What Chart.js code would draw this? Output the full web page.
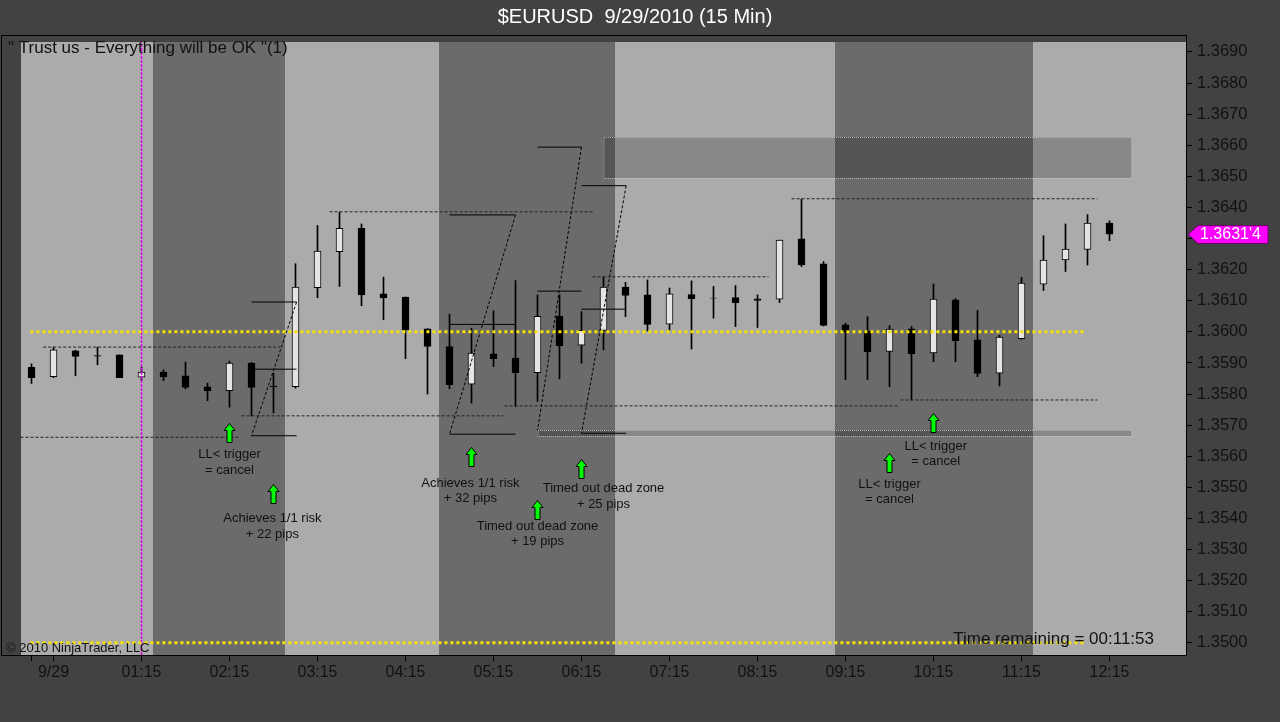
<!DOCTYPE html>
<html>
<head>
<meta charset="utf-8">
<script src="https://cdn.jsdelivr.net/npm/chart.js@4.4.0/dist/chart.umd.min.js"></script>
<style>
  html, body { margin: 0; padding: 0; background: #424242; }
  canvas { display: block; }
</style>
</head>
<body>
<canvas id="eurusdChart" width="1280" height="722"></canvas>
<script>
// 15 min bars, 9/29/2010, first bar 00:00
const opens  = [1.35886,1.35856,1.35939,1.35924,1.35926,1.35854,1.35871,1.35859,1.35823,1.35811,
                1.35900,1.35826,1.35824,1.36142,1.36258,1.36333,1.36122,1.36112,1.36010,1.35953,
                1.35832,1.35929,1.35916,1.35869,1.36051,1.35957,1.36005,1.36144,1.36119,1.36025,
                1.36120,1.36109,1.36110,1.36106,1.36105,1.36299,1.36219,1.36023,1.36003,1.35937,
                1.36010,1.35932,1.36103,1.35974,1.35867,1.35978,1.36153,1.36231,1.36265,1.36350];
const highs  = [1.35897,1.35951,1.35941,1.35951,1.35926,1.35886,1.35878,1.35903,1.35835,1.35906,
                1.35902,1.35867,1.36219,1.36342,1.36385,1.36347,1.36176,1.36112,1.36010,1.36057,
                1.36012,1.36068,1.36165,1.36119,1.36119,1.36065,1.36176,1.36159,1.36167,1.36141,
                1.36164,1.36146,1.36149,1.36119,1.36295,1.36427,1.36226,1.36028,1.36049,1.36020,
                1.36017,1.36154,1.36107,1.36069,1.35989,1.36175,1.36309,1.36347,1.36377,1.36357];
const lows   = [1.35834,1.35853,1.35859,1.35894,1.35853,1.35843,1.35843,1.35817,1.35779,1.35758,
                1.35730,1.35739,1.35819,1.36110,1.36146,1.36084,1.36039,1.35914,1.35800,1.35817,
                1.35771,1.35888,1.35760,1.35776,1.35849,1.35899,1.35942,1.36049,1.36003,1.36006,
                1.35945,1.36044,1.36017,1.36014,1.36094,1.36210,1.36019,1.35846,1.35846,1.35824,
                1.35781,1.35904,1.35904,1.35856,1.35826,1.35976,1.36133,1.36194,1.36215,1.36293];
const closes = [1.35853,1.35942,1.35921,1.35922,1.35853,1.35871,1.35855,1.35821,1.35811,1.35900,
                1.35821,1.35823,1.36144,1.36260,1.36333,1.36119,1.36109,1.36006,1.35953,1.35830,
                1.35932,1.35914,1.35869,1.36050,1.35956,1.36005,1.36144,1.36117,1.36024,1.36122,
                1.36107,1.36108,1.36094,1.36101,1.36295,1.36215,1.36021,1.36001,1.35936,1.36009,
                1.35930,1.36105,1.35972,1.35866,1.35983,1.36157,1.36231,1.36266,1.36350,1.36314];

const yTicks = [1.3500,1.3510,1.3520,1.3530,1.3540,1.3550,1.3560,1.3570,1.3580,1.3590,
                1.3600,1.3610,1.3620,1.3630,1.3640,1.3650,1.3660,1.3670,1.3680,1.3690];
const xTickPos    = [0, 1, 5, 9, 13, 17, 21, 25, 29, 33, 37, 41, 45, 49];
const xTickLabels = ['', '9/29', '01:15', '02:15', '03:15', '04:15', '05:15', '06:15',
                     '07:15', '08:15', '09:15', '10:15', '11:15', '12:15'];

// session shading boundaries (bar index)
const sessionEdges = [-0.5, 5.5, 11.5, 18.5, 26.5, 36.5, 45.5, 52.5];

// yellow target lines
const goalLevels = [1.3600, 1.3500];
const goalFrom = -0.05, goalTo = 47.9;

// thin dashed stop / range lines
const rangeLevels = [1.35951, 1.35661, 1.35730, 1.36386, 1.35762, 1.36177, 1.36428, 1.35781];
const rangeFrom   = [0.53, -0.5, 9.55, 13.55, 21.5, 25.5, 34.55, 39.5];
const rangeTo     = [11.3, 9.5, 21.45, 25.5, 39.4, 33.5, 48.45, 48.45];

// "Z" trade patterns
const zLeft  = [10, 19, 23, 25];
const zRight = [12.05, 22, 25, 27.03];
const zHigh  = [1.36096, 1.36376, 1.36594, 1.36470];
const zMid   = [1.35880, 1.36024, 1.36131, 1.36073];
const zLow   = [1.35666, 1.35671, 1.35683, 1.35674];
const zBase  = [1.35666, 1.35671, null, 1.35674];

// zones
const zoneFrom = [26, 23];
const zoneTo   = [50, 50];
const zoneHigh = [1.36626, 1.35683];
const zoneLow  = [1.36494, 1.35666];

// arrows + notes
const arrowAt    = [9, 11, 20, 23, 25, 39, 41];
const arrowPrice = [1.35707, 1.35511, 1.35631, 1.35458, 1.35591, 1.35610, 1.35739];
const noteAt     = [9, 10.95, 19.95, 23, 26, 39, 41.1];
const notePrice  = [1.35605, 1.35399, 1.35514, 1.35376, 1.35495, 1.35511, 1.35633];
const noteText   = [
  ['LL< trigger', '= cancel'],
  ['Achieves 1/1 risk', '+ 22 pips'],
  ['Achieves 1/1 risk', '+ 32 pips'],
  ['Timed out dead zone', '+ 19 pips'],
  ['Timed out dead zone', '+ 25 pips'],
  ['LL< trigger', '= cancel'],
  ['LL< trigger', '= cancel']
];

const FONT = '"Liberation Sans", Arial, sans-serif';
const xMin = -0.5 - 1 / 44, xMax = 52.5 - 1 / 44;
const yMin = 1.34961, yMax = 1.36932;

function segs(list) {
  const pts = [];
  list.forEach(([x0, y0, x1, y1]) => {
    pts.push({x: x0, y: y0}, {x: x1, y: y1}, {x: x1, y: null});
  });
  return pts;
}

const bodyData = opens.map((o, i) => ({x: i, y: [o, closes[i]]}));
const wickData = lows.map((l, i) => ({x: i, y: [l, highs[i]]}));
const bodyColors = opens.map((o, i) => closes[i] >= o ? '#e4e4e4' : '#000000');

const goalSegs = segs(goalLevels.map(p => [goalFrom, p, goalTo, p]));
const rangeSegs = segs(rangeLevels.map((p, i) => [rangeFrom[i], p, rangeTo[i], p]));
const zSolid = [];
zLeft.forEach((l, i) => {
  zSolid.push([l, zHigh[i], zRight[i], zHigh[i]]);
  zSolid.push([l, zMid[i], zRight[i], zMid[i]]);
  if (zBase[i] !== null) zSolid.push([l, zBase[i], zRight[i], zBase[i]]);
});
const zSolidSegs = segs(zSolid);
const zDiagSegs = segs(zLeft.map((l, i) => [zRight[i], zHigh[i], l, zLow[i]]));

const lineBase = {type: 'line', pointRadius: 0, borderWidth: 1, tension: 0, spanGaps: false, fill: false, order: 0};

const backdrop = {
  id: 'backdrop',
  beforeDraw(chart) {
    const {ctx, chartArea: a, scales: {x, y}} = chart;
    ctx.save();
    ctx.fillStyle = '#424242';
    ctx.fillRect(0, 0, chart.width, chart.height);
    for (let i = 0; i < sessionEdges.length - 1; i++) {
      const x0 = Math.round(x.getPixelForValue(sessionEdges[i]));
      const x1 = Math.round(x.getPixelForValue(sessionEdges[i + 1]));
      ctx.fillStyle = i % 2 ? '#6b6b6b' : '#ababab';
      ctx.fillRect(x0, a.top, x1 - x0, a.bottom - a.top);
    }
    // zones
    zoneFrom.forEach((f, i) => {
      const x0 = x.getPixelForValue(f), x1 = x.getPixelForValue(zoneTo[i]);
      const y0 = Math.round(y.getPixelForValue(zoneHigh[i])), y1 = Math.round(y.getPixelForValue(zoneLow[i]));
      ctx.fillStyle = 'rgba(0,0,0,0.2)';
      ctx.fillRect(x0, y0, x1 - x0, y1 - y0);
      ctx.setLineDash([1, 1]);
      ctx.strokeStyle = 'rgba(205,205,205,0.75)';
      ctx.lineWidth = 1;
      ctx.strokeRect(x0 + 0.5, y0 + 0.5, x1 - x0, y1 - y0);
    });
    ctx.restore();
  }
};

const overlay = {
  id: 'overlay',
  afterDatasetsDraw(chart) {
    const {ctx, scales: {x, y}} = chart;
    ctx.save();
    // arrows
    arrowAt.forEach((a, i) => {
      const cx = x.getPixelForValue(a), t = Math.round(y.getPixelForValue(arrowPrice[i])) + 0.5;
      ctx.beginPath();
      ctx.moveTo(cx, t);
      ctx.lineTo(cx + 5.5, t + 7);
      ctx.lineTo(cx + 2.5, t + 7);
      ctx.lineTo(cx + 2.5, t + 19);
      ctx.lineTo(cx - 2.5, t + 19);
      ctx.lineTo(cx - 2.5, t + 7);
      ctx.lineTo(cx - 5.5, t + 7);
      ctx.closePath();
      ctx.fillStyle = '#00ff00';
      ctx.fill();
      ctx.strokeStyle = '#000';
      ctx.lineWidth = 1;
      ctx.stroke();
    });
    // notes
    ctx.font = '13px ' + FONT;
    ctx.fillStyle = '#111';
    ctx.textAlign = 'center';
    ctx.textBaseline = 'middle';
    noteAt.forEach((n, i) => {
      const cx = x.getPixelForValue(n), cy = y.getPixelForValue(notePrice[i]);
      noteText[i].forEach((line, k) => ctx.fillText(line, cx, cy + k * 15.5));
    });
    ctx.restore();
  },
  afterDraw(chart) {
    const {ctx, chartArea: a, scales: {y}} = chart;
    ctx.save();
    // panel frame
    ctx.strokeStyle = '#000';
    ctx.lineWidth = 1;
    ctx.strokeRect(1.5, 35.5, a.right - 1, a.bottom - 35);
    // title
    ctx.fillStyle = '#ffffff';
    ctx.font = '20px ' + FONT;
    ctx.textAlign = 'center';
    ctx.textBaseline = 'middle';
    ctx.fillText('$EURUSD  9/29/2010 (15 Min)', 635, 17);
    // texts inside panel
    ctx.fillStyle = '#111';
    ctx.textAlign = 'left';
    ctx.font = '17px ' + FONT;
    ctx.fillText('" Trust us - Everything will be OK "(1)', 8, 48);
    ctx.font = '13px ' + FONT;
    ctx.fillText('\u00a9 2010 NinjaTrader, LLC', 6, 648);
    ctx.textAlign = 'right';
    ctx.font = '17px ' + FONT;
    ctx.fillText('Time remaining = 00:11:53', 1154, 639);
    // last price marker
    const last = closes[closes.length - 1];
    const ly = Math.round(y.getPixelForValue(last)) + 0.5;
    ctx.beginPath();
    ctx.moveTo(a.right + 2, ly);
    ctx.lineTo(a.right + 12, ly - 9);
    ctx.lineTo(a.right + 82, ly - 9);
    ctx.lineTo(a.right + 82, ly + 9);
    ctx.lineTo(a.right + 12, ly + 9);
    ctx.closePath();
    ctx.fillStyle = '#ff00ff';
    ctx.fill();
    ctx.strokeStyle = '#6a006a';
    ctx.stroke();
    const s = last.toFixed(5);
    ctx.fillStyle = '#ffffff';
    ctx.textAlign = 'left';
    ctx.font = '16px ' + FONT;
    ctx.fillText(s.slice(0, 6) + "'" + s.slice(6), a.right + 14, ly + 0.5);
    ctx.restore();
  }
};

const ctx = document.getElementById('eurusdChart').getContext('2d');
const eurusdChart = new Chart(ctx, {
  type: 'bar',
  data: {
    datasets: [
      {...lineBase, data: goalSegs, borderColor: '#f4e400', borderWidth: 3, borderDash: [3, 3]},
      {...lineBase, data: [{x: 5, y: yMin}, {x: 5, y: yMax}], borderColor: '#e000e0', borderWidth: 1.5, borderDash: [3, 1]},
      {...lineBase, data: rangeSegs, borderColor: '#222', borderDash: [3, 2]},
      {...lineBase, data: zSolidSegs, borderColor: '#000'},
      {...lineBase, data: zDiagSegs, borderColor: '#000', borderDash: [3, 2]},
      {
        type: 'bar', data: bodyData, backgroundColor: bodyColors, borderColor: '#000',
        borderWidth: 1, borderSkipped: false, barThickness: 7, grouped: false, order: 5
      },
      {
        type: 'bar', data: wickData, backgroundColor: '#000', borderWidth: 0,
        barThickness: 1, grouped: false, order: 6
      }
    ]
  },
  options: {
    responsive: false,
    animation: false,
    events: [],
    layout: {padding: {left: 20, top: 42, right: 0, bottom: 0}},
    plugins: {legend: {display: false}, title: {display: false}, tooltip: {enabled: false}},
    scales: {
      x: {
        type: 'linear', min: xMin, max: xMax, offset: false,
        afterFit: s => { s.height = 67; },
        afterBuildTicks: s => { s.ticks = xTickPos.map(v => ({value: v})); },
        grid: {offset: false, drawOnChartArea: false, drawTicks: true, tickLength: 6, color: '#000'},
        border: {display: true, color: '#000'},
        ticks: {
          autoSkip: false, maxRotation: 0, minRotation: 0, padding: 2,
          color: '#111', font: {family: FONT, size: 16},
          callback: v => { const k = xTickPos.indexOf(v); return k >= 0 ? xTickLabels[k] : ''; }
        }
      },
      y: {
        type: 'linear', position: 'right', min: yMin, max: yMax,
        afterFit: s => { s.width = 94; },
        afterBuildTicks: s => { s.ticks = yTicks.map(v => ({value: v})); },
        grid: {drawOnChartArea: false, drawTicks: true, tickLength: 6, color: '#000'},
        border: {display: true, color: '#000'},
        ticks: {
          padding: 5, color: '#111', font: {family: FONT, size: 16.5},
          callback: v => v.toFixed(4)
        }
      }
    }
  },
  plugins: [backdrop, overlay]
});
</script>
</body>
</html>
